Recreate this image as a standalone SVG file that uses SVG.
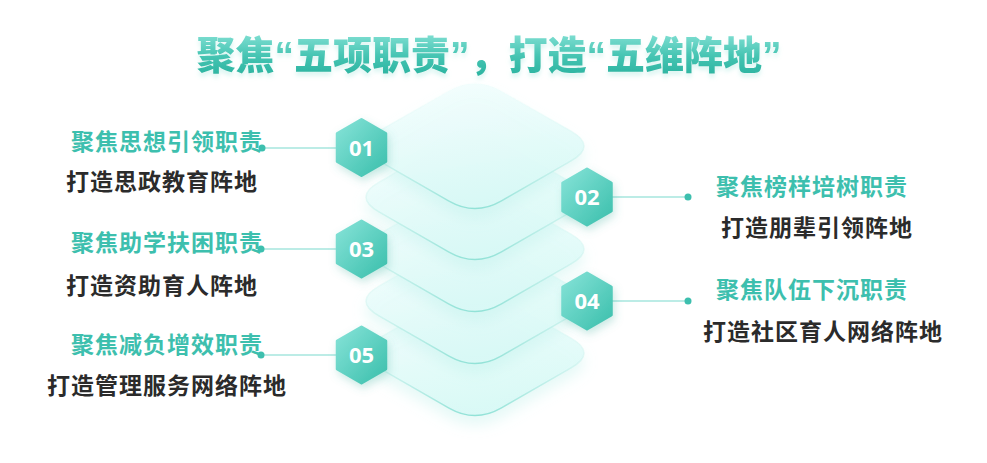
<svg xmlns="http://www.w3.org/2000/svg" width="987" height="463" viewBox="0 0 987 463">
<style>
.teal{font-family:"Noto Sans CJK SC","Noto Sans",sans-serif;font-weight:700;font-size:23px;letter-spacing:1px;fill:#3dbfae}
.dark{font-family:"Noto Sans CJK SC","Noto Sans",sans-serif;font-weight:700;font-size:23px;letter-spacing:1px;fill:#2b2b2b}
.num{font-family:"Open Sans","Noto Sans",sans-serif;font-weight:700;font-size:22px;fill:#ffffff;text-anchor:middle}
.title{font-family:"Noto Sans CJK SC","Noto Sans",sans-serif;font-weight:900;font-size:39px;letter-spacing:0px;fill:url(#titleG);text-anchor:middle}
.q{font-family:"Liberation Sans","Noto Sans CJK SC",sans-serif;font-weight:700}
.line{stroke:#a6e6de;stroke-width:1.5;fill:none}
.dot{fill:#3dbfae}
.layer{fill:url(#layerFill);stroke:url(#layerStroke);stroke-width:1.6;filter:url(#layerShadow)}
.hex{fill:url(#hexG);stroke:url(#hexG);stroke-width:3;stroke-linejoin:round;filter:url(#hexShadow)}
</style>
<defs>
<linearGradient id="titleG" gradientUnits="userSpaceOnUse" x1="0" y1="36" x2="0" y2="73">
<stop offset="0" stop-color="#7adccf"/>
<stop offset="0.55" stop-color="#45c4b2"/>
<stop offset="1" stop-color="#2fb6a3"/>
</linearGradient>
<linearGradient id="layerFill" x1="0" y1="0" x2="0.3" y2="1">
<stop offset="0" stop-color="#f5fefe" stop-opacity="0.93"/>
<stop offset="1" stop-color="#d9f9f6" stop-opacity="0.93"/>
</linearGradient>
<linearGradient id="layerStroke" x1="0" y1="0" x2="0" y2="1">
<stop offset="0" stop-color="#e8fbf9" stop-opacity="0.1"/>
<stop offset="0.5" stop-color="#d2f4f0" stop-opacity="0.5"/>
<stop offset="1" stop-color="#92e2d7"/>
</linearGradient>
<linearGradient id="hexG" x1="0" y1="0" x2="1" y2="1">
<stop offset="0" stop-color="#86e3d8"/>
<stop offset="1" stop-color="#3bbfac"/>
</linearGradient>
<filter id="layerShadow" x="-20%" y="-20%" width="140%" height="160%">
<feDropShadow dx="0" dy="9" stdDeviation="7" flood-color="#b4eee6" flood-opacity="0.35"/>
</filter>
<filter id="hexShadow" x="-40%" y="-40%" width="180%" height="180%">
<feDropShadow dx="2" dy="4" stdDeviation="4" flood-color="#4fb5a6" flood-opacity="0.3"/>
</filter>
<filter id="titleShadow" x="-5%" y="-20%" width="110%" height="160%">
<feDropShadow dx="0" dy="4" stdDeviation="2" flood-color="#9ee5db" flood-opacity="0.35"/>
</filter>
<path id="lay" d="M501,-55.1 L571,-14.9 Q597,0 571,14.9 L501,55.1 Q475,70 449,55.1 L379,14.9 Q353,0 379,-14.9 L449,-55.1 Q475,-70 501,-55.1 Z"/>
<polygon id="hx" points="0,-28 24.25,-14 24.25,14 0,28 -24.25,14 -24.25,-14"/>
</defs>
<rect width="987" height="463" fill="#ffffff"/>

<g id="title" filter="url(#titleShadow)">
<text class="title" x="489" y="69">聚焦<tspan class="q">“</tspan>五项职责<tspan class="q">”</tspan>，打造<tspan class="q">“</tspan>五维阵地<tspan class="q">”</tspan></text>
</g>

<g id="layers">
<use href="#lay" class="layer" transform="translate(0,353)"/>
<use href="#lay" class="layer" transform="translate(0,301)"/>
<use href="#lay" class="layer" transform="translate(0,249)"/>
<use href="#lay" class="layer" transform="translate(0,197)"/>
<use href="#lay" class="layer" transform="translate(0,146)"/>
</g>

<g id="connectors">
<line class="line" x1="262" y1="148" x2="338" y2="148"/>
<circle class="dot" cx="262" cy="148" r="3.5"/>
<line class="line" x1="611" y1="197" x2="688" y2="197"/>
<circle class="dot" cx="688" cy="197" r="3.5"/>
<line class="line" x1="261" y1="249" x2="338" y2="249"/>
<circle class="dot" cx="261" cy="249" r="3.5"/>
<line class="line" x1="611" y1="301" x2="688" y2="301"/>
<circle class="dot" cx="688" cy="301" r="3.5"/>
<line class="line" x1="261" y1="355" x2="338" y2="355"/>
<circle class="dot" cx="261" cy="355" r="3.5"/>
</g>

<g id="node-01">
<use href="#hx" class="hex" transform="translate(361.5,147.5)"/>
<text class="num" x="361.5" y="155.5">01</text>
<text class="teal" x="71" y="149.5">聚焦思想引领职责</text>
<text class="dark" x="66" y="189.5">打造思政教育阵地</text>
</g>
<g id="node-02">
<use href="#hx" class="hex" transform="translate(587,197)"/>
<text class="num" x="587" y="205">02</text>
<text class="teal" x="716" y="194.5">聚焦榜样培树职责</text>
<text class="dark" x="721" y="235.5">打造朋辈引领阵地</text>
</g>
<g id="node-03">
<use href="#hx" class="hex" transform="translate(361.5,249)"/>
<text class="num" x="361.5" y="257">03</text>
<text class="teal" x="71" y="251">聚焦助学扶困职责</text>
<text class="dark" x="66" y="293.5">打造资助育人阵地</text>
</g>
<g id="node-04">
<use href="#hx" class="hex" transform="translate(587,301)"/>
<text class="num" x="587" y="309">04</text>
<text class="teal" x="716" y="297.5">聚焦队伍下沉职责</text>
<text class="dark" x="703" y="339.5">打造社区育人网络阵地</text>
</g>
<g id="node-05">
<use href="#hx" class="hex" transform="translate(361.5,355)"/>
<text class="num" x="361.5" y="363">05</text>
<text class="teal" x="71" y="352.5">聚焦减负增效职责</text>
<text class="dark" x="47" y="393.5">打造管理服务网络阵地</text>
</g>
</svg>
